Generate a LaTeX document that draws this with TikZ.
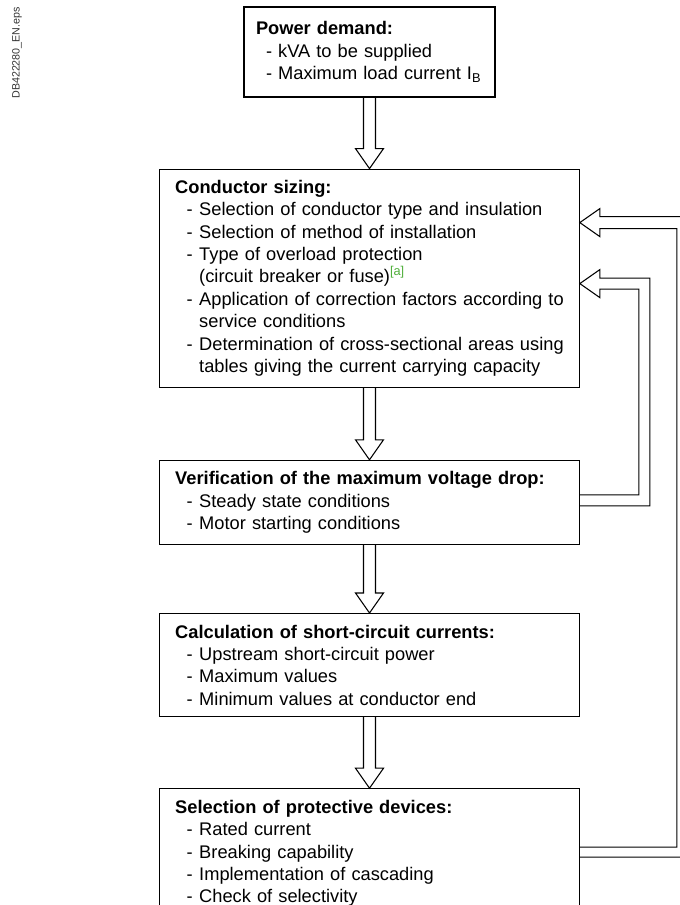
\documentclass[tikz,border=0pt]{standalone}
\usepackage{fontspec}
\setmainfont{Liberation Sans}
\usepackage{xcolor}
\usepackage{tikz}
\usetikzlibrary{positioning,calc}
\definecolor{fngreen}{RGB}{80,175,60}
\newcommand{\boxfont}{\fontsize{13.7}{16.8}\selectfont}
\newcommand{\itm}[1]{\hspace*{8.6pt}\makebox[9.4pt][l]{-}\mbox{#1}}
\newcommand{\cnt}[1]{\hspace*{18pt}\mbox{#1}}
\begin{document}
\begin{tikzpicture}[x=0.75pt, y=-0.75pt,
  box/.style={draw, line width=0.9pt, align=left, font=\boxfont, inner ysep=0pt, inner xsep=11.6pt, text width=291.4pt},
  hollow/.style={draw, line width=0.8pt, line join=miter}
]
\useasboundingbox (0,0) rectangle (680,905);
\node[rotate=90, font=\fontsize{8}{9.6}\selectfont, text=black!80] (fileid) at (17,53) {DB422280\_EN.eps};
\node[box, inner xsep=9pt, text width=170.25pt, minimum height=67.5pt] (power) at (369.5,52) {\textbf{Power demand:}\\
\hspace*{7.5pt}\mbox{- kVA to be supplied}\\
\hspace*{7.5pt}\mbox{- Maximum load current I\textsubscript{B}}};
\node[box, minimum height=163.5pt, below=53.25pt of power] (sizing) {\textbf{Conductor sizing:}\\
\itm{Selection of conductor type and insulation}\\
\itm{Selection of method of installation}\\
\itm{Type of overload protection}\\
\cnt{(circuit breaker or fuse)\textsuperscript{\color{fngreen}[a]}}\\
\itm{Application of correction factors according to}\\
\cnt{service conditions}\\
\itm{Determination of cross-sectional areas using}\\
\cnt{tables giving the current carrying capacity}};
\node[box, minimum height=63pt, below=54pt of sizing] (drop) {\textbf{Verification of the maximum voltage drop:}\\
\itm{Steady state conditions}\\
\itm{Motor starting conditions}};
\node[box, minimum height=77.25pt, below=51pt of drop] (shortc) {\textbf{Calculation of short-circuit currents:}\\
\itm{Upstream short-circuit power}\\
\itm{Maximum values}\\
\itm{Minimum values at conductor end}};
\node[box, minimum height=96.75pt, below=53.25pt of shortc] (protect) {\textbf{Selection of protective devices:}\\
\itm{Rated current}\\
\itm{Breaking capability}\\
\itm{Implementation of cascading}\\
\itm{Check of selectivity}};
% downward arrows
\draw[hollow] ($(power.south)+(-6,0)$) -- ($(sizing.north)+(-6,-20)$) -- ($(sizing.north)+(-14,-20)$) -- (sizing.north) -- ($(sizing.north)+(14,-20)$) -- ($(sizing.north)+(6,-20)$) -- ($(power.south)+(6,0)$);
\draw[hollow] ($(sizing.south)+(-6,0)$) -- ($(drop.north)+(-6,-20)$) -- ($(drop.north)+(-14,-20)$) -- (drop.north) -- ($(drop.north)+(14,-20)$) -- ($(drop.north)+(6,-20)$) -- ($(sizing.south)+(6,0)$);
\draw[hollow] ($(drop.south)+(-6,0)$) -- ($(shortc.north)+(-6,-20)$) -- ($(shortc.north)+(-14,-20)$) -- (shortc.north) -- ($(shortc.north)+(14,-20)$) -- ($(shortc.north)+(6,-20)$) -- ($(drop.south)+(6,0)$);
\draw[hollow] ($(shortc.south)+(-6,0)$) -- ($(protect.north)+(-6,-20)$) -- ($(protect.north)+(-14,-20)$) -- (protect.north) -- ($(protect.north)+(14,-20)$) -- ($(protect.north)+(6,-20)$) -- ($(shortc.south)+(6,0)$);
% feedback loops
\draw[hollow] ($(drop.north east)+(0,35)$) -- ($(drop.north east)+(59,35)$) -- ($(sizing.north east)+(59,120.5)$) -- ($(sizing.north east)+(20,120.5)$) -- ($(sizing.north east)+(20,129)$) -- ($(sizing.north east)+(0,115)$) -- ($(sizing.north east)+(20,101)$) -- ($(sizing.north east)+(20,109.5)$) -- ($(sizing.north east)+(70,109.5)$) -- ($(drop.north east)+(70,46)$) -- ($(drop.north east)+(0,46)$);
\draw[hollow] ($(protect.north east)+(0,59)$) -- ($(protect.north east)+(97,59)$) -- ($(sizing.north east)+(97,60)$) -- ($(sizing.north east)+(20,60)$) -- ($(sizing.north east)+(20,68)$) -- ($(sizing.north east)+(0,54)$) -- ($(sizing.north east)+(20,40)$) -- ($(sizing.north east)+(20,48)$) -- ($(sizing.north east)+(109,48)$) -- ($(protect.north east)+(109,69)$) -- ($(protect.north east)+(0,69)$);
\end{tikzpicture}
\end{document}
